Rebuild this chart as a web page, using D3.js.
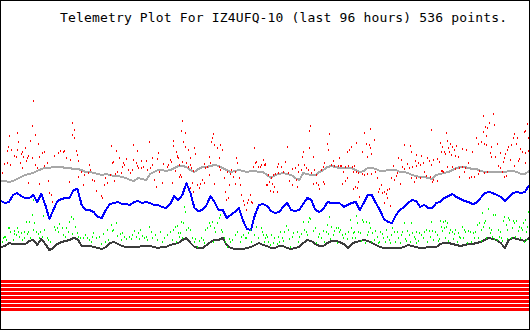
<!DOCTYPE html>
<html><head><meta charset="utf-8">
<script src="https://cdn.jsdelivr.net/npm/d3@7"></script>
<style>html,body{margin:0;padding:0;background:#fff;}svg{display:block;}</style>
</head><body>
<script>
const titleText = "Telemetry Plot For IZ4UFQ-10 (last 96 hours) 536 points.";
const nPoints = 536;

// line channels, sampled at evenly spaced sample indexes across the 536 points
const grayVals = [149,149,148,149,151,153,155,156,157,159,161,162,162,163,163,163,162,162,161,161,
160,158,158,157,156,155,156,155,154,154,153,152,150,149,152,151,150,156,158,160,
160,159,160,162,164,164,163,160,158,161,163,163,164,165,164,162,160,158,159,160,
159,158,159,159,158,158,155,152,155,156,157,156,155,152,150,157,156,155,155,158,
160,163,164,163,162,162,162,162,160,158,159,162,162,161,159,159,160,160,160,158,
158,157,155,154,153,153,152,151,155,156,157,158,160,162,163,163,162,161,161,159,
158,158,158,158,158,158,159,159,158,156,156,159];

const blueVals = [129,127,128,135,137,134,132,132,135,128,136,125,111,120,129,131,132,132,140,141,
125,120,120,118,113,112,120,126,127,128,126,126,125,128,129,127,128,127,125,125,
123,122,126,134,130,
135,147,137,122,119,120,125,134,128,120,120,112,115,118,122,110,101,100,115,125,
126,124,119,117,118,123,127,120,119,120,126,132,130,120,118,121,128,127,127,127,
123,125,127,128,120,127,135,135,127,120,111,108,107,115,120,123,127,130,129,123,
125,122,122,127,128,132,134,136,133,131,129,128,126,127,132,137,138,137,135,133,
129,133,137,138,137,138,145];

const blackVals = [83,84,87,86,86,86,86,89,90,85,91,86,80,82,86,88,89,90,92,91,
84,84,84,83,82,81,83,87,88,86,84,83,83,83,83,84,84,84,83,82,
83,83,85,86,87,90,92,87,83,82,82,85,88,90,90,92,85,82,81,81,
81,82,83,85,87,85,84,82,82,84,84,82,81,82,83,87,90,89,86,84,
84,87,89,89,88,86,82,86,88,89,90,89,87,85,83,82,82,82,82,82,
83,85,84,83,82,82,83,83,83,86,87,87,86,85,84,85,86,86,87,88,
90,92,91,90,87,82,90,92,91,90,89,92];

// scattered channels: [sample index, value]
const redPts = [
[32,229],[31,204],[16,197],[8,194],[34,195],[17,188],[29,189],[7,183],[37,186],[6,179],[10,180],[16,180],[24,182],[21,178],[13,174],[15,173],[22,173],[26,172],[27,174],[31,172],[39,173],[42,177],[44,178],[3,166],[6,167],[9,165],[19,167],[21,162],[25,169],[34,165],[36,162],[44,164],[47,167],[54,174],[58,177],[60,179],[63,178],[64,179],[66,172],[70,170],[72,195],[72,207],[74,200],[74,192],[76,179],[77,175],[78,169],[81,158],[84,155],[88,157],[89,165],[90,160],[78,153],[69,148],[83,145],[27,147],[39,146],[48,149],[49,137],[51,135],[52,128],[1,157],[20,176],
[111,184],[117,179],[134,185],[138,179],[150,188],[153,172],[159,177],[174,189],[174,184],[178,174],[177,178],[179,172],[89,165],[92,150],[94,149],[96,139],[101,134],[102,132],[104,145],[105,152],[107,147],[110,155],[112,167],[113,168],[114,149],[116,156],[118,158],[120,172],[122,157],[123,163],[124,167],[125,165],[127,171],[129,160],[131,157],[133,160],[134,170],[137,167],[138,164],[139,162],[142,169],[142,162],[144,163],[147,169],[148,160],[151,162],[153,165],[155,150],[157,143],[158,171],[160,158],[163,147],[164,166],[168,163],[169,165],[171,170],[172,168],[173,147],[176,159],[180,153],[178,173],
[183,209],[182,199],[186,197],[184,188],[186,183],[189,180],[196,182],[197,176],[179,172],[180,165],[183,168],[187,167],[191,172],[192,165],[189,163],[193,162],[195,159],[181,155],[182,153],[194,147],[192,142],[195,138],[199,145],[201,142],[202,146],[204,150],[206,147],[206,166],[207,162],[209,163],[211,173],[212,167],[214,192],[213,188],[215,196],[216,185],[219,182],[221,172],[222,185],[224,180],[221,163],[222,160],[216,146],[211,155],[226,152],[227,138],[228,130],[230,132],[231,145],[232,156],[233,160],[235,153],[237,158],[238,172],[239,167],[241,152],[242,145],[243,135],[245,129],[246,125],[248,120],[249,127],[250,130],[252,135],[253,128],[254,127],[255,163],[256,182],[257,167],[258,168],[260,163],[262,163],[263,165],[265,170],[266,165],[267,166],[269,145],[229,158],[237,146],
[313,204],[312,199],[332,196],[330,186],[331,180],[312,182],[306,178],[305,173],[316,173],[355,183],[353,180],[351,178],[290,183],[342,172],[336,169],[288,168],[281,166],[284,163],[280,163],[268,165],[295,161],[298,162],[307,165],[309,162],[304,160],[311,160],[301,158],[317,160],[324,160],[326,163],[327,167],[334,165],[337,164],[341,164],[343,164],[345,164],[349,163],[352,164],[356,163],[358,164],[271,155],[274,152],[276,155],[278,156],[281,157],[272,148],[270,145],[275,146],[277,143],[273,139],[276,138],[280,138],[292,149],[295,145],[300,143],[316,146],[319,147],[321,145],[322,141],[326,148],[327,146],[347,158],[351,152],[349,149],[346,146],[357,141],[299,150],[319,155],[314,157],[301,165],[286,158],[291,157],
[374,201],[368,197],[360,187],[378,190],[370,186],[373,185],[374,182],[366,178],[371,173],[375,176],[436,200],[445,187],[447,183],[446,178],[408,185],[414,184],[415,178],[421,175],[426,174],[419,169],[402,172],[405,170],[411,166],[406,163],[408,161],[413,162],[416,163],[421,164],[423,167],[425,165],[428,167],[432,172],[434,169],[436,165],[438,170],[442,171],[444,168],[446,159],[448,158],[397,164],[401,157],[400,154],[398,150],[404,146],[429,158],[431,154],[435,153],[438,150],[442,149],[437,148],[425,152],[421,152],[418,148],[415,152],[357,158],[360,158],[362,157],[366,156],[368,155],[371,156],[375,156],[379,158],[381,152],[359,143],[362,148],[361,142],[363,133],[385,145],[383,141],[382,138],[386,137],[388,138],[390,136],[391,140],[393,141],[391,132],[388,127],[394,124],[395,152],
[499,216],[488,214],[494,207],[500,205],[490,203],[492,202],[451,197],[488,198],[533,206],[535,203],[531,199],[530,198],[534,192],[520,196],[519,192],[523,192],[491,194],[481,192],[486,188],[483,186],[452,189],[455,186],[461,184],[453,182],[457,183],[459,180],[449,178],[450,176],[454,178],[456,175],[460,174],[463,173],[467,181],[471,180],[477,178],[503,186],[497,183],[495,177],[489,186],[491,185],[496,173],[501,173],[506,177],[511,176],[513,180],[514,183],[517,185],[522,186],[526,181],[528,178],[531,177],[534,179],[516,170],[510,172],[524,169],[525,171],[509,168],[447,159],[452,163],[457,163],[460,161],[464,162],[467,163],[470,162],[473,167],[469,158],[464,153],[474,152],[476,153],[479,153],[483,156],[484,159],[489,157],[492,158],[506,162],[508,158],[510,153],[504,164],[512,154],[520,164],[531,167],[535,163]
];

const greenPts = [
[32,130],[31,115],[43,114],[28,108],[33,107],[25,108],[71,113],[73,111],[69,108],[7,102],[8,102],[16,102],[9,98],[13,99],[17,98],[20,97],[23,98],[27,98],[3,93],[13,96],[18,93],[23,92],[26,96],[29,92],[32,100],[35,98],[37,96],[40,98],[42,93],[44,100],[47,92],[48,90],[50,88],[54,103],[55,100],[57,102],[58,98],[59,106],[62,102],[63,95],[65,93],[66,102],[68,98],[72,96],[75,103],[77,97],[78,93],[80,92],[83,92],[85,95],[87,92],[89,90],[2,92],[4,93],[1,88],[5,90],[12,90],[15,95],[21,90],[38,92],
[111,105],[117,107],[113,100],[112,99],[107,100],[93,97],[92,93],[96,92],[99,93],[103,96],[105,88],[108,90],[118,94],[121,96],[123,97],[125,93],[127,91],[130,93],[132,91],[133,95],[135,99],[137,93],[139,97],[141,100],[143,94],[145,92],[147,93],[148,90],[150,103],[152,98],[153,92],[156,95],[158,90],[161,98],[163,88],[165,92],[168,95],[171,98],[173,90],[174,100],[176,103],[178,104],[179,97],[177,88],[91,88],[101,86],[122,90],[140,91],
[185,123],[186,118],[182,108],[184,107],[181,97],[180,93],[183,92],[187,100],[189,102],[191,100],[194,92],[196,88],[197,91],[201,89],[203,92],[205,90],[207,100],[209,102],[211,107],[212,104],[214,108],[216,102],[217,98],[219,107],[221,112],[222,115],[223,100],[224,98],[226,92],[227,88],[229,83],[231,91],[232,88],[234,90],[237,95],[239,98],[242,88],[243,93],[245,95],[247,92],[248,92],[250,97],[252,100],[253,88],[256,95],[258,103],[260,92],[263,102],[264,98],[265,95],[266,88],[267,92],[269,95],[199,83],[206,87],[215,88],
[312,112],[313,111],[306,108],[311,108],[332,113],[354,110],[330,105],[334,103],[289,104],[291,100],[287,98],[283,98],[274,95],[281,93],[285,92],[277,92],[270,93],[271,88],[276,87],[282,88],[286,89],[292,91],[295,93],[296,97],[300,98],[301,88],[304,96],[307,100],[309,98],[310,95],[316,99],[318,102],[321,93],[322,96],[324,92],[326,99],[327,88],[329,98],[331,96],[333,91],[336,95],[337,99],[339,102],[341,102],[342,98],[344,100],[346,95],[347,92],[349,96],[351,91],[352,98],[355,102],[356,92],[357,97],[319,87],[302,93],[293,83],[280,86],[273,85],[340,87],
[360,114],[361,107],[366,110],[367,108],[370,108],[373,107],[374,102],[358,98],[362,98],[364,97],[371,95],[372,98],[376,97],[379,99],[381,93],[384,98],[386,96],[390,100],[391,93],[395,95],[396,102],[398,98],[401,98],[405,95],[406,98],[408,107],[411,99],[413,95],[415,107],[416,97],[418,93],[421,98],[424,97],[426,95],[429,98],[431,100],[434,99],[436,108],[437,99],[440,98],[442,95],[445,109],[446,103],[447,99],[448,108],[359,92],[365,89],[369,87],[375,88],[378,90],[382,87],[383,88],[387,92],[389,88],[393,90],[394,87],[399,88],[402,92],[404,87],[409,91],[410,89],[414,88],[419,91],[420,87],[423,89],[428,92],[432,88],[435,93],[438,90],[443,89],[444,91],
[487,117],[493,121],[499,115],[501,115],[490,109],[489,107],[510,113],[514,112],[515,110],[519,109],[520,107],[522,109],[534,118],[535,115],[531,110],[529,107],[450,109],[452,107],[449,102],[451,103],[455,100],[457,98],[460,100],[454,97],[459,96],[463,97],[464,93],[467,103],[469,100],[470,98],[473,99],[475,98],[478,97],[480,98],[482,105],[484,107],[486,100],[488,103],[494,102],[496,100],[504,100],[506,98],[509,109],[512,105],[513,100],[518,102],[524,99],[525,103],[527,102],[528,100],[532,98],[533,103],[535,107],[450,92],[453,89],[458,91],[462,88],[465,92],[468,92],[472,87],[476,88],[479,92],[483,92],[486,89],[491,92],[495,97],[498,93],[500,91],[503,90],[505,93],[507,92],[508,89],[513,91],[517,92],[521,93],[526,92],[530,88],[532,90],[535,93]
];

// constant status channels drawn as bands
const bandLevels = [48.5, 44.5, 40.5, 36.5, 32.5, 28.5, 24.5, 20.5];

const W = 530, H = 330;
const svg = d3.select("body").append("svg").attr("width", W).attr("height", H);
svg.append("rect").attr("width", W).attr("height", H).attr("fill", "#fff");

const x = d3.scaleLinear().domain([0, nPoints - 1]).range([1, 529]);
const y = d3.scaleLinear().domain([0, 330]).range([330, 0]);

// bands
svg.append("g").selectAll("line").data(bandLevels).join("line")
  .attr("x1", x(0)).attr("x2", x(nPoints - 1))
  .attr("y1", d => y(d)).attr("y2", d => y(d))
  .attr("stroke", "#ff0000").attr("stroke-width", 3)
  .attr("shape-rendering", "crispEdges");

function drawLine(vals, color) {
  const idx = vals.map((v, i) => i * (nPoints - 1) / (vals.length - 1));
  const line = d3.line().x((d, i) => x(idx[i])).y(d => y(d));
  svg.append("path").datum(vals).attr("d", line)
    .attr("fill", "none").attr("stroke", color).attr("stroke-width", 2)
    .attr("stroke-linejoin", "round").attr("shape-rendering", "crispEdges");
}
drawLine(grayVals, "#a8a8a8");
drawLine(blueVals, "#0000ff");
drawLine(blackVals, "#3c3c3c");

function drawDots(pts, color) {
  svg.append("g").selectAll("rect").data(pts).join("rect")
    .attr("x", d => Math.round(x(d[0])))
    .attr("y", d => Math.round(y(d[1])) - 1)
    .attr("width", 1).attr("height", 2)
    .attr("fill", color).attr("shape-rendering", "crispEdges");
}
drawDots(redPts, "#ff0000");
drawDots(greenPts, "#00ff00");

svg.append("text").attr("x", 60).attr("y", 22)
  .attr("font-family", "'DejaVu Sans Mono', 'Liberation Mono', monospace")
  .attr("font-size", 13).attr("fill", "#000")
  .attr("textLength", 447).attr("lengthAdjust", "spacing")
  .text(titleText);

svg.append("rect").attr("x", 0.5).attr("y", 0.5).attr("width", W - 1).attr("height", H - 1)
  .attr("fill", "none").attr("stroke", "#000").attr("stroke-width", 1)
  .attr("shape-rendering", "crispEdges");
</script>
</body></html>
